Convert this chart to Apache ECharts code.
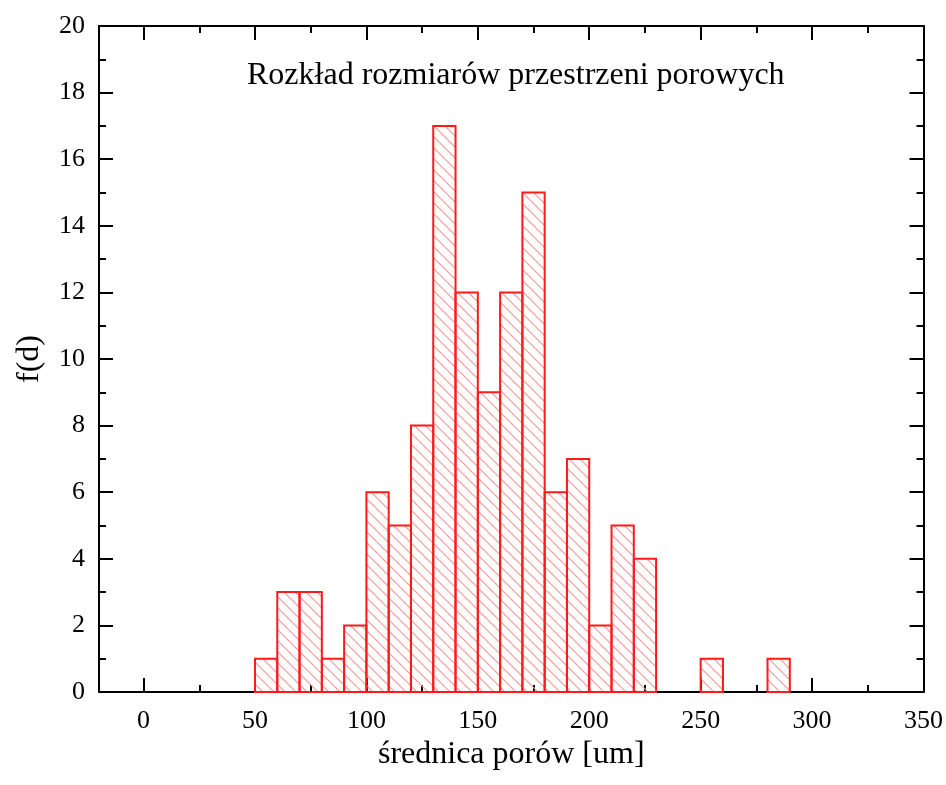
<!DOCTYPE html>
<html>
<head>
<meta charset="utf-8">
<script src="https://cdn.jsdelivr.net/npm/echarts@6/dist/echarts.min.js"></script>
<style>
  html, body { margin: 0; padding: 0; background: #fff; }
  #chart { width: 946px; height: 785px; }
</style>
</head>
<body>
<div id="chart"></div>
<script>
// histogram bins: left edge of each bin, width 10 um
const binStarts = [50, 60, 70, 80, 90, 100, 110, 120, 130, 140, 150, 160, 170, 180, 190, 200, 210, 220, 250, 280];
const counts    = [ 1,  3,  3,  1,  2,   6,   5,   8,  17,  12,   9,  12,  15,   6,   7,   2,   5,   4,   1,   1];
const binWidth = 10;

const xTicks = [0, 50, 100, 150, 200, 250, 300, 350];
const xMinorTicks = [25, 75, 125, 175, 225, 275, 325];

const serif = 'Liberation Serif, Times New Roman, serif';

// diagonal hatch pattern
function hatch() {
  const s = 11;
  const c = document.createElement('canvas');
  c.width = s; c.height = s;
  const g = c.getContext('2d');
  g.strokeStyle = '#f39a9a';
  g.lineWidth = 1.2;
  g.beginPath();
  g.moveTo(-1, -1); g.lineTo(s + 1, s + 1);
  g.moveTo(-1, s - 1); g.lineTo(1, s + 1);
  g.moveTo(s - 1, -1); g.lineTo(s + 1, 1);
  g.stroke();
  return c;
}
const pattern = { image: hatch(), repeat: 'repeat' };

const chart = echarts.init(document.getElementById('chart'));

const axisLine = { show: true, onZero: false, lineStyle: { color: '#000', width: 2 } };

function xAxisDef(pos, ticks, len, labels) {
  return {
    type: 'value', position: pos, min: -20, max: 350,
    axisLine: axisLine,
    splitLine: { show: false },
    axisTick: { show: true, inside: true, length: len, customValues: ticks, lineStyle: { color: '#000', width: 2 } },
    axisLabel: labels
      ? { show: true, customValues: ticks, margin: 16, fontFamily: serif, fontSize: 26, color: '#000' }
      : { show: false }
  };
}

function yAxisDef(pos, labels) {
  return {
    type: 'value', position: pos, min: 0, max: 20, interval: 2,
    axisLine: axisLine,
    splitLine: { show: false },
    axisTick: { show: true, inside: true, length: 14, lineStyle: { color: '#000', width: 2 } },
    minorTick: { show: true, splitNumber: 2, length: 7, lineStyle: { color: '#000', width: 2 } },
    axisLabel: labels
      ? { show: true, margin: 14, fontFamily: serif, fontSize: 26, color: '#000' }
      : { show: false }
  };
}

const xMain = xAxisDef('bottom', xTicks, 14, true);
xMain.name = 'średnica porów [um]';
xMain.nameLocation = 'middle';
xMain.nameGap = 36;
xMain.nameTextStyle = { fontFamily: serif, fontSize: 32, color: '#000' };

const yMain = yAxisDef('left', true);
yMain.name = 'f(d)';
yMain.nameLocation = 'middle';
yMain.nameGap = 53;
yMain.nameTextStyle = { fontFamily: serif, fontSize: 32, color: '#000' };

chart.setOption({
  backgroundColor: '#fff',
  animation: false,
  title: {
    text: 'Rozkład rozmiarów przestrzeni porowych',
    left: 242, top: 55,
    textStyle: { fontFamily: serif, fontSize: 32, fontWeight: 'normal', color: '#000' }
  },
  grid: { left: 99, right: 21, top: 26, bottom: 93, containLabel: false },
  xAxis: [
    xMain,
    xAxisDef('bottom', xMinorTicks, 7, false),
    xAxisDef('top', xTicks, 14, false),
    xAxisDef('top', xMinorTicks, 7, false)
  ],
  yAxis: [yMain, yAxisDef('right', false)],
  series: [{
    type: 'custom',
    xAxisIndex: 0,
    yAxisIndex: 0,
    data: binStarts.map((x, i) => [x, counts[i]]),
    renderItem: function (params, api) {
      const x0 = api.value(0);
      const y = api.value(1);
      const p0 = api.coord([x0, y]);
      const p1 = api.coord([x0 + binWidth, 0]);
      return {
        type: 'rect',
        shape: { x: p0[0], y: p0[1], width: p1[0] - p0[0], height: p1[1] - p0[1] },
        style: { fill: pattern, stroke: '#ff1a1a', lineWidth: 2 }
      };
    }
  }]
});
</script>
</body>
</html>
